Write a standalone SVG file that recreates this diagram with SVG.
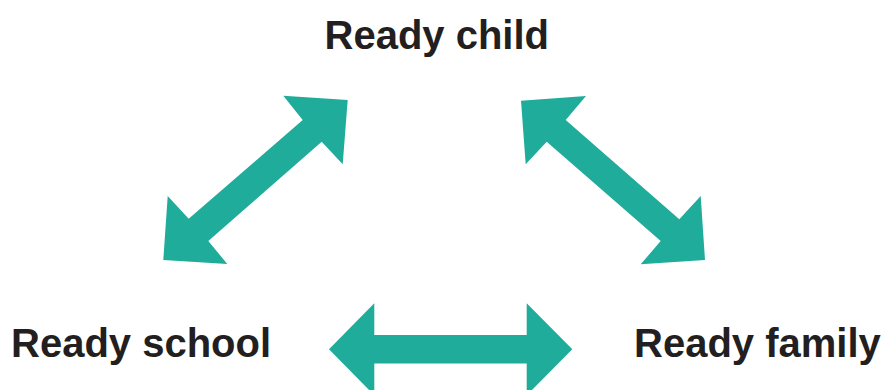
<svg xmlns="http://www.w3.org/2000/svg" width="885" height="390" viewBox="0 0 885 390">
  <style>
    .label { font-family: "Liberation Sans", Arial, Helvetica, sans-serif; font-weight: bold; font-size: 40px; fill: #231f20; }
    .arrow { fill: #1fac9a; }
  </style>
  <rect width="885" height="390" fill="#ffffff"/>

  <g id="connectors">
    <!-- child <-> school -->
    <polygon class="arrow" points="347.7,100 342.7,164.3 321.7,141.7 208.3,241 227.3,264 163.3,260 167.7,196 188.7,218.7 302.7,120 283.3,95.7"/>
    <!-- child <-> family -->
    <polygon class="arrow" points="521,100.7 525.7,164.3 546.7,141.7 660.7,241 640.7,264.3 705,260 700.7,196 679.3,219.3 565.7,120 586,96"/>
    <!-- school <-> family -->
    <polygon class="arrow" points="329,349.3 374.3,303.3 374.3,335 526.7,335 526.7,303.3 572.3,349.3 526.7,395.3 526.7,363.5 374.3,363.5 374.3,395.3"/>
  </g>

  <g id="node-child">
    <text class="label" x="324.5" y="49">Ready child</text>
  </g>
  <g id="node-school">
    <text class="label" x="11" y="357">Ready school</text>
  </g>
  <g id="node-family">
    <text class="label" x="634" y="357">Ready family</text>
  </g>
</svg>
